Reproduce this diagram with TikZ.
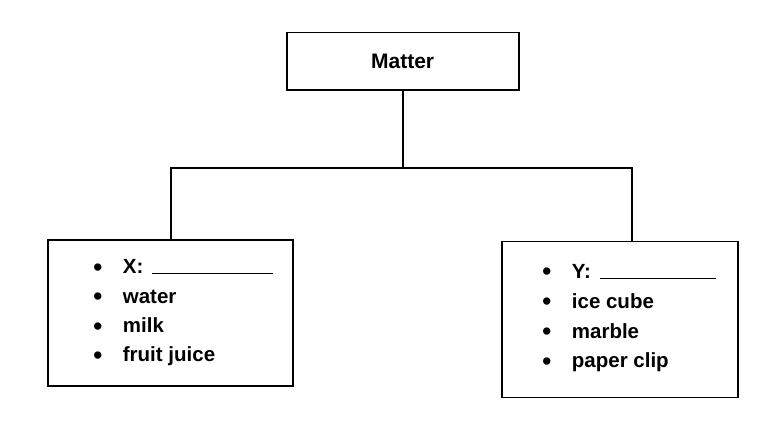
\documentclass[tikz,border=0pt]{standalone}
\usepackage{fontspec}
\setmainfont{Liberation Sans}
\begin{document}
\begin{tikzpicture}[x=1pt,y=-1pt,
  box/.style={draw=black,line width=1.8pt,inner sep=0pt,anchor=north west},
  conn/.style={draw=black,line width=1.8pt},
  item/.style={anchor=base west,inner sep=0pt,font=\fontsize{20.5}{24}\selectfont\bfseries},
  bul/.style={anchor=base west,inner sep=0pt,font=\fontsize{27}{30}\selectfont}]
\useasboundingbox[fill=white] (0,0) rectangle (780,438);
% boxes
\node[box,minimum width=232pt,minimum height=57.6pt,
      font=\fontsize{21}{25}\selectfont\bfseries] (matter) at (285.7,31.7) {Matter};
\node[box,minimum width=245pt,minimum height=146pt] (xbox) at (47.3,239) {};
\node[box,minimum width=235.7pt,minimum height=156pt] (ybox) at (501,240.7) {};
% connectors
\coordinate (j) at (402.7,167.7);
\coordinate (rt) at (632,240.7);
\draw[conn] (matter.south -| j) -- (j);
\draw[conn] (xbox.north) |- (j) -| (rt);
% left list
\foreach \i/\y/\t in {1/274/{X:\hspace{8.5pt}\rule{121.6pt}{1.4pt}},2/303.5/water,3/333/milk,4/362/fruit juice}{
  \node[bul] (xb\i) at (93,\y+2.3) {•};
  \node[item] (xt\i) at (122.7,\y) {\t};
}
% right list
\foreach \i/\y/\t in {1/278.5/{Y:\hspace{9.5pt}\rule[-0.8pt]{116pt}{1.4pt}},2/308.7/ice cube,3/338.3/marble,4/368/paper clip}{
  \node[bul] (yb\i) at (542,\y+2.3) {•};
  \node[item] (yt\i) at (571.7,\y) {\t};
}
\end{tikzpicture}
\end{document}
